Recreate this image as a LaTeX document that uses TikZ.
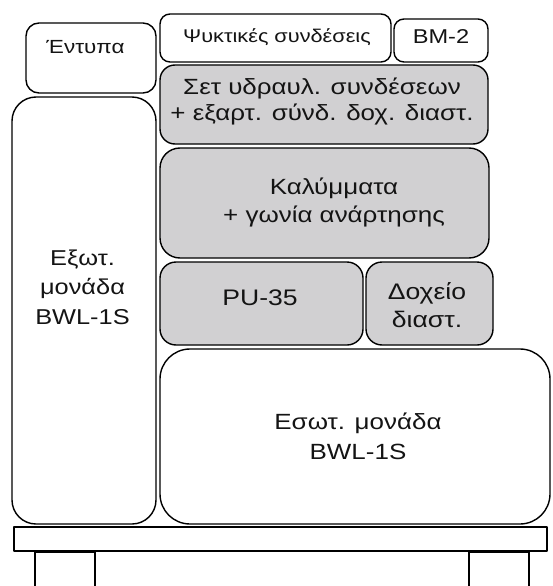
\documentclass[tikz,border=0pt]{standalone}
\usepackage{fontspec}
\setmainfont{Liberation Sans}[FakeStretch=1.18]
\definecolor{boxgr}{RGB}{209,208,210}
\definecolor{txt}{RGB}{20,20,20}
\newcommand{\fsz}[2]{\fontsize{#1}{#2}\selectfont}

\begin{document}
\begin{tikzpicture}[x=1pt, y=-1pt, line width=1.4pt, line join=round]
\clip (0,0) rectangle (552,586);
\fill[white] (0,0) rectangle (552,586);
% white boxes
\foreach \xa/\ya/\xb/\yb/\r in {26/23/156/93/13, 160/14/391/62/10, 394/19/488/62/10, 12/97/156/524/24, 160/349/550/524/30}{
\draw[rounded corners=\r pt] (\xa,\ya) rectangle (\xb,\yb);
}
% grey boxes
\foreach \xa/\ya/\xb/\yb/\r in {160/65/488/144/15, 160/148/489/258/20, 160/262/363/345/16, 366/262/493/345/16}{
\draw[fill=boxgr, rounded corners=\r pt] (\xa,\ya) rectangle (\xb,\yb);
}
% pallet
\draw (14,527) rectangle (547,551);
\draw (35,600) -- (35,552) -- (95,552) -- (95,600);
\draw (469,600) -- (469,552) -- (529,552) -- (529,600);
% texts (anchor base = last line)
\tikzset{every node/.style={text=txt, anchor=base, align=center}}
\node[font=\fsz{19}{22}] (entypa) at (85.5,54) {Έντυπα};
\node[font=\fsz{18.4}{21}] (psykt) at (277,43) {Ψυκτικές συνδέσεις};
\node[font=\fsz{20}{22}] (bm) at (441,43.5) {BM-2};
\node[font=\fsz{22}{26}] (set) at (322,120) {Σετ υδραυλ. συνδέσεων\\+ εξαρτ. σύνδ. δοχ. διαστ.};
\node[font=\fsz{22}{28}] (kal) at (334,222) {Καλύμματα\\+ γωνία ανάρτησης};
\node[font=\fsz{21.5}{29.5}] (exot) at (82.5,324) {Εξωτ.\\μονάδα\\BWL-1S};
\node[font=\fsz{22.5}{26}] (pu) at (260,305) {PU-35};
\node[font=\fsz{22.5}{28}] (dox) at (427,327) {Δοχείο\\διαστ.};
\node[font=\fsz{22}{30}] (esot) at (358,459) {Εσωτ. μονάδα\\BWL-1S};
\end{tikzpicture}
\end{document}
